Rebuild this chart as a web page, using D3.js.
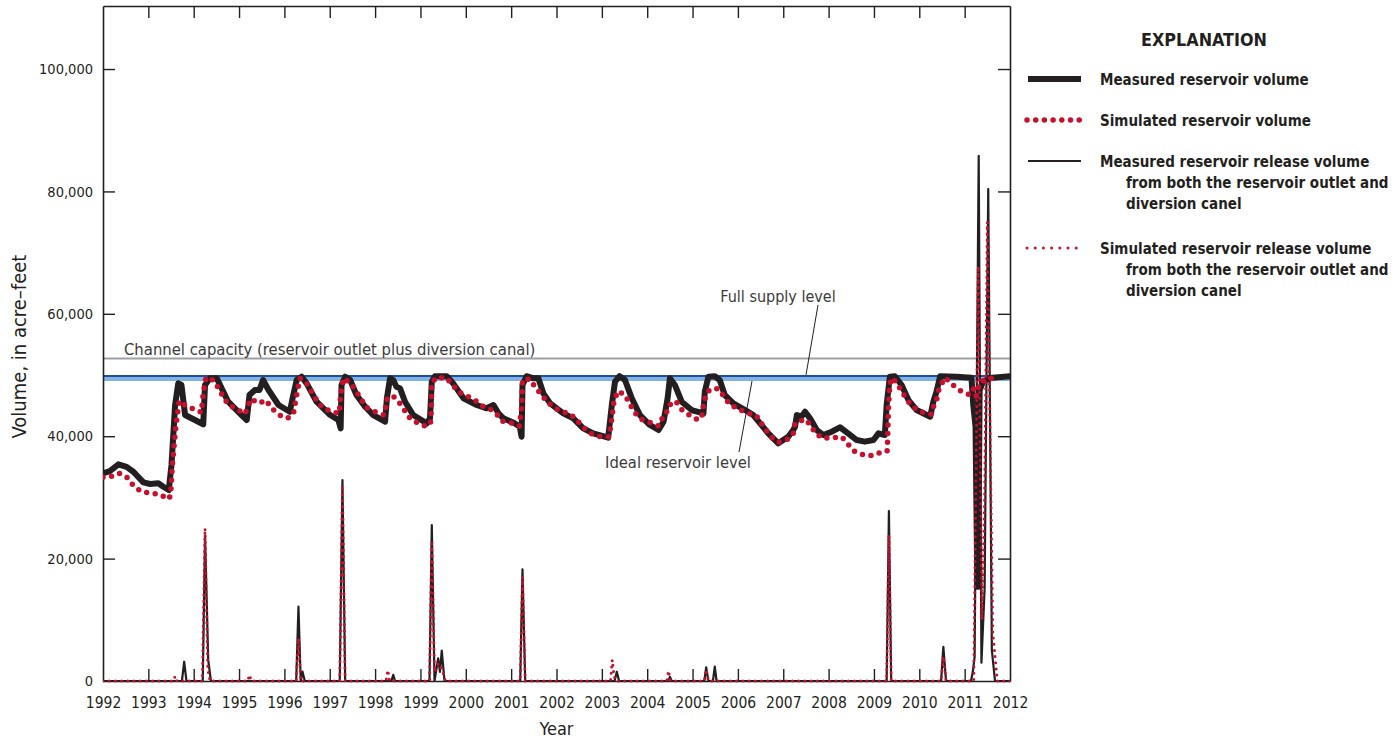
<!DOCTYPE html>
<html>
<head>
<meta charset="utf-8">
<script src="https://cdn.jsdelivr.net/npm/d3@7"></script>
<style>
  html, body { margin: 0; padding: 0; background: #fff; }
  svg { display: block; }
  text { font-family: "Liberation Sans Narrow", "Arial Narrow", "DejaVu Sans Condensed", sans-serif; fill: #231f20; }
</style>
</head>
<body>
<svg id="chart" width="1393" height="740"></svg>
<script>
// ---------------- DATA ----------------
const yearTicks = d3.range(1992, 2013);
const volumeTicks = [0, 20000, 40000, 60000, 80000, 100000];

const channelCapacity = 52700;
const fullSupplyLevel = 49850;
const idealReservoirLevel = 49350;

// Measured reservoir volume [year, acre-feet]
const measuredVolume = [
  [1992.00,33940],[1992.15,34300],[1992.34,35400],[1992.52,35000],[1992.67,34200],[1992.89,32460],
  [1993.04,32190],[1993.22,32300],[1993.33,31750],[1993.45,31200],[1993.51,35300],[1993.59,45100],
  [1993.66,48650],[1993.73,48370],[1993.81,43460],[1994.21,41950],[1994.25,48370],[1994.36,49460],
  [1994.51,49460],[1994.76,45640],[1995.05,43500],[1995.17,42650],[1995.23,46730],[1995.35,47550],
  [1995.45,47550],[1995.53,49180],[1995.65,47550],[1995.87,45100],[1996.12,44000],[1996.18,46190],
  [1996.27,49180],[1996.38,49720],[1996.49,48640],[1996.71,45640],[1997.01,43460],[1997.19,42650],
  [1997.24,41290],[1997.26,48370],[1997.34,49720],[1997.45,49180],[1997.59,46730],[1997.78,44820],
  [1997.96,43460],[1998.22,42370],[1998.26,46190],[1998.33,49460],[1998.40,49180],[1998.47,48090],
  [1998.55,47820],[1998.66,45640],[1998.84,43460],[1999.14,42100],[1999.21,42920],[1999.25,48910],
  [1999.32,49800],[1999.58,49800],[1999.72,48640],[1999.95,46190],[2000.24,45100],[2000.46,44560],
  [2000.61,45100],[2000.72,43740],[2000.83,42920],[2001.08,42100],[2001.19,41550],[2001.23,39920],
  [2001.25,48370],[2001.34,49800],[2001.49,49460],[2001.60,49460],[2001.71,47010],[2001.86,45370],
  [2002.15,43740],[2002.37,42920],[2002.59,41290],[2002.81,40470],[2003.14,39760],[2003.22,45100],
  [2003.29,48910],[2003.39,49800],[2003.51,49180],[2003.66,46190],[2003.84,43460],[2004.06,41830],
  [2004.25,41010],[2004.36,42370],[2004.45,46190],[2004.50,49460],[2004.61,48370],[2004.76,45640],
  [2004.98,44280],[2005.24,43740],[2005.27,47280],[2005.35,49720],[2005.49,49800],[2005.60,49180],
  [2005.71,46730],[2005.90,45370],[2006.16,44280],[2006.34,43460],[2006.49,42100],[2006.67,40470],
  [2006.89,38840],[2007.11,39920],[2007.22,41010],[2007.26,41550],[2007.30,43460],[2007.40,43190],
  [2007.48,44000],[2007.59,42920],[2007.74,41010],[2007.88,40200],[2008.07,40740],[2008.25,41460],
  [2008.43,40470],[2008.62,39380],[2008.80,39110],[2008.99,39380],[2009.10,40470],[2009.24,40200],
  [2009.28,45100],[2009.35,49720],[2009.46,49800],[2009.61,48370],[2009.76,45910],[2009.94,44280],
  [2010.24,43190],[2010.31,45640],[2010.38,47280],[2010.46,49800],[2010.82,49720],[2011.15,49560],
  [2011.19,45100],[2011.24,41550],[2011.28,15400],[2011.30,15400],[2011.33,47500],[2011.40,48800],
  [2011.55,49500],[2012.00,49800]
];

// Simulated reservoir volume [year, acre-feet]
const simulatedVolume = [
  [1992.00,33290],[1992.23,33500],[1992.37,33940],[1992.56,33120],[1992.67,31910],[1992.85,30930],
  [1993.05,30720],[1993.26,30500],[1993.44,29690],[1993.49,30280],[1993.53,35300],[1993.61,41830],
  [1993.68,45750],[1993.83,44990],[1994.01,44400],[1994.17,43900],[1994.21,47010],[1994.27,49560],
  [1994.43,49180],[1994.54,47930],[1994.65,46460],[1994.76,45210],[1994.95,44400],[1995.13,43630],
  [1995.26,46080],[1995.44,45370],[1995.59,45910],[1995.72,44560],[1995.89,43460],[1996.07,42920],
  [1996.20,43740],[1996.27,46730],[1996.34,49460],[1996.49,48640],[1996.71,45910],[1996.84,44660],
  [1997.04,44000],[1997.21,43740],[1997.24,46730],[1997.30,49460],[1997.46,48640],[1997.59,47280],
  [1997.81,44660],[1998.00,44000],[1998.20,43460],[1998.27,46190],[1998.39,46620],[1998.53,45530],
  [1998.77,42920],[1998.95,42100],[1999.14,41550],[1999.23,42370],[1999.25,48640],[1999.34,49560],
  [1999.56,49560],[1999.70,48480],[1999.83,47280],[2000.02,46570],[2000.20,45910],[2000.37,44930],
  [2000.53,44450],[2000.68,43630],[2000.80,42480],[2000.99,42210],[2001.18,41670],[2001.23,44560],
  [2001.25,49180],[2001.41,49350],[2001.54,47930],[2001.66,46850],[2001.78,45750],[2001.94,44660],
  [2002.11,44120],[2002.33,43460],[2002.48,42370],[2002.63,41180],[2002.78,40360],[2002.96,39920],
  [2003.16,39920],[2003.22,42920],[2003.27,45910],[2003.36,47390],[2003.51,46730],[2003.61,45370],
  [2003.71,44000],[2003.86,42810],[2004.05,42270],[2004.25,41670],[2004.33,42920],[2004.41,43460],
  [2004.47,44990],[2004.63,45750],[2004.74,44450],[2004.93,43460],[2005.09,42810],[2005.20,42920],
  [2005.25,45640],[2005.33,47280],[2005.45,47820],[2005.58,47710],[2005.71,46300],[2005.82,45210],
  [2006.01,44450],[2006.23,43740],[2006.40,43460],[2006.50,42270],[2006.62,41010],[2006.75,39760],
  [2006.89,39000],[2007.11,39540],[2007.22,40470],[2007.26,42100],[2007.37,42480],[2007.48,42810],
  [2007.60,41830],[2007.71,40470],[2007.88,39650],[2008.09,39760],[2008.29,39920],[2008.43,38680],
  [2008.58,37470],[2008.77,36930],[2008.97,36810],[2009.15,37360],[2009.29,37580],[2009.30,39100],
  [2009.32,44560],[2009.35,48640],[2009.41,49560],[2009.53,48370],[2009.65,46850],[2009.76,45640],
  [2009.91,44560],[2010.09,43840],[2010.27,43580],[2010.33,45210],[2010.39,46190],[2010.44,47930],
  [2010.57,49560],[2010.74,48370],[2010.90,47440],[2011.09,46850],[2011.19,47830],[2011.25,46500],
  [2011.33,48600],[2011.45,49300],[2011.72,49560]
];

// Measured reservoir release volume [year, acre-feet]
const measuredRelease = [
  [1992.00,0],[1993.74,0],[1993.79,3150],[1993.84,0],[1994.20,0],[1994.25,23800],[1994.32,3430],
  [1994.38,0],[1996.26,0],[1996.31,12140],[1996.36,0],[1996.40,1520],[1996.45,0],[1997.22,0],
  [1997.28,32840],[1997.34,0],[1998.36,0],[1998.40,1000],[1998.44,0],[1999.20,0],[1999.25,25490],
  [1999.31,0],[1999.39,3700],[1999.43,1500],[1999.47,4950],[1999.53,0],[2001.20,0],[2001.25,18250],
  [2001.31,0],[2003.28,0],[2003.33,1520],[2003.38,0],[2004.47,0],[2004.50,700],[2004.54,0],
  [2005.26,0],[2005.30,2240],[2005.35,0],[2005.45,0],[2005.49,2340],[2005.53,0],[2009.28,0],
  [2009.33,27780],[2009.38,0],[2010.48,0],[2010.53,5600],[2010.59,0],[2011.14,0],[2011.18,1500],
  [2011.22,4000],[2011.31,85800],[2011.37,3000],[2011.44,15000],[2011.52,80400],[2011.60,5000],
  [2011.67,0],[2012.00,0]
];

// Simulated reservoir release volume [year, acre-feet]
const simulatedRelease = [
  [1992.00,0],[1993.55,0],[1993.59,800],[1993.63,0],[1994.19,0],[1994.25,24950],[1994.31,2000],
  [1994.36,0],[1995.19,0],[1995.23,1000],[1995.27,0],[1996.26,0],[1996.31,7000],[1996.36,0],
  [1997.22,0],[1997.28,32000],[1997.34,0],[1998.24,0],[1998.28,1800],[1998.32,0],[1999.20,0],
  [1999.25,22500],[1999.31,1500],[1999.40,2900],[1999.48,1800],[1999.55,0],[2001.20,0],
  [2001.25,17040],[2001.31,0],[2003.19,0],[2003.23,3430],[2003.27,800],[2003.31,0],[2004.43,0],
  [2004.47,1680],[2004.51,0],[2005.26,0],[2005.30,1900],[2005.35,0],[2009.28,0],[2009.33,23860],
  [2009.38,0],[2010.48,0],[2010.53,4000],[2010.59,0],[2011.20,0],[2011.30,67800],[2011.38,10000],
  [2011.44,30000],[2011.50,75000],[2011.62,8000],[2011.72,0],[2012.00,0]
];

// ---------------- CHART ----------------
const svg = d3.select("#chart");
const plot = { left: 103, right: 1010, top: 6, bottom: 681 };

const xScale = d3.scaleLinear().domain([1992, 2012]).range([plot.left, plot.right]);
const yScale = d3.scaleLinear().domain([0, 110300]).range([plot.bottom, plot.top]);

const ink = "#231f20";
const red = "#c8102e";
const fontStack = '"Liberation Sans Narrow", "Arial Narrow", "DejaVu Sans Condensed", sans-serif';

svg.append("defs").append("clipPath").attr("id", "clip")
  .append("rect").attr("x", plot.left).attr("y", plot.top)
  .attr("width", plot.right - plot.left).attr("height", plot.bottom - plot.top + 3);

// Reference lines
const refs = svg.append("g");
refs.append("line").attr("x1", plot.left).attr("x2", plot.right)
  .attr("y1", yScale(channelCapacity)).attr("y2", yScale(channelCapacity))
  .attr("stroke", "#9d9fa2").attr("stroke-width", 2);
refs.append("line").attr("x1", plot.left).attr("x2", plot.right)
  .attr("y1", yScale(idealReservoirLevel)).attr("y2", yScale(idealReservoirLevel))
  .attr("stroke", "#7fb2e5").attr("stroke-width", 4);
refs.append("line").attr("x1", plot.left).attr("x2", plot.right)
  .attr("y1", yScale(fullSupplyLevel)).attr("y2", yScale(fullSupplyLevel))
  .attr("stroke", "#1f4e9c").attr("stroke-width", 2);

// Axes
const axisG = svg.append("g");
const tickLen = 12;
const axLeft = axisG.append("g").attr("transform", `translate(${plot.left},0)`)
  .call(d3.axisLeft(yScale).tickValues(volumeTicks).tickFormat(d3.format(",")).tickSizeInner(-tickLen).tickSizeOuter(0).tickPadding(10));
const axBottom = axisG.append("g").attr("transform", `translate(0,${plot.bottom})`)
  .call(d3.axisBottom(xScale).tickValues(yearTicks).tickFormat(d3.format("d")).tickSizeInner(-tickLen).tickSizeOuter(0).tickPadding(16));
const axTop = axisG.append("g").attr("transform", `translate(0,${plot.top})`)
  .call(d3.axisTop(xScale).tickValues(yearTicks).tickFormat("").tickSizeInner(-tickLen).tickSizeOuter(0));
const axRight = axisG.append("g").attr("transform", `translate(${plot.right},0)`)
  .call(d3.axisRight(yScale).tickValues(volumeTicks).tickFormat("").tickSizeInner(-tickLen).tickSizeOuter(0));

[axLeft, axBottom, axTop, axRight].forEach(g => {
  g.selectAll("path.domain").attr("stroke", ink).attr("stroke-width", 1.6);
  g.selectAll(".tick line").attr("stroke", ink).attr("stroke-width", 1.4);
  g.selectAll(".tick text").attr("fill", ink).style("font-size", "14.5px").style("font-family", fontStack);
});
axBottom.selectAll(".tick text").style("font-size", "15.5px");
axBottom.selectAll(".tick").filter(d => d === 1992 || d === 2012).select("line").remove();
axTop.selectAll(".tick").filter(d => d === 1992 || d === 2012).select("line").remove();
axRight.selectAll(".tick").filter(d => d === 0).select("line").remove();
axLeft.selectAll(".tick").filter(d => d === 0).select("line").remove();

// Lines
const lineGen = d3.line().x(d => xScale(d[0])).y(d => yScale(d[1]));
const dataG = svg.append("g").attr("clip-path", "url(#clip)");

dataG.append("path").datum(measuredVolume).attr("d", lineGen)
  .attr("fill", "none").attr("stroke", ink).attr("stroke-width", 6)
  .attr("stroke-linejoin", "round").attr("stroke-linecap", "round");

dataG.append("path").datum(measuredRelease).attr("d", lineGen)
  .attr("fill", "none").attr("stroke", ink).attr("stroke-width", 2.2)
  .attr("stroke-linejoin", "round");

dataG.append("path").datum(simulatedVolume).attr("d", lineGen)
  .attr("fill", "none").attr("stroke", red).attr("stroke-width", 5.5)
  .attr("stroke-dasharray", "0,8.6").attr("stroke-linecap", "round");

dataG.append("path").datum(simulatedRelease).attr("d", lineGen)
  .attr("fill", "none").attr("stroke", red).attr("stroke-width", 3)
  .attr("stroke-dasharray", "0,6.2").attr("stroke-linecap", "round");

// Axis titles
svg.append("text").attr("x", (plot.left + plot.right) / 2).attr("y", 735)
  .attr("text-anchor", "middle").style("font-size", "18px").text("Year");
svg.append("text").attr("transform", `translate(26,${(plot.top + plot.bottom) / 2 + 3}) rotate(-90)`)
  .attr("text-anchor", "middle").style("font-size", "20px").text("Volume, in acre\u2013feet");

// Annotations
svg.append("text").attr("x", 124).attr("y", 355).style("font-size", "16.5px").style("fill", "#3a3a3a")
  .text("Channel capacity (reservoir outlet plus diversion canal)");
svg.append("text").attr("x", 778).attr("y", 302).attr("text-anchor", "middle")
  .style("font-size", "16px").style("fill", "#3a3a3a").text("Full supply level");
svg.append("line").attr("x1", 818).attr("y1", 305).attr("x2", 806).attr("y2", yScale(fullSupplyLevel) - 1)
  .attr("stroke", ink).attr("stroke-width", 1);
svg.append("text").attr("x", 678).attr("y", 468).attr("text-anchor", "middle")
  .style("font-size", "16.4px").style("fill", "#3a3a3a").text("Ideal reservoir level");
svg.append("line").attr("x1", 739).attr("y1", 452).attr("x2", 752).attr("y2", yScale(idealReservoirLevel) + 2)
  .attr("stroke", ink).attr("stroke-width", 1);

// Legend
const lg = svg.append("g");
lg.append("text").attr("x", 1204).attr("y", 46).attr("text-anchor", "middle")
  .style("font-size", "17.8px").style("font-weight", "bold").text("EXPLANATION");

const items = [
  { y: 79, lines: ["Measured reservoir volume"], stroke: ink, w: 6, dash: null },
  { y: 120, lines: ["Simulated reservoir volume"], stroke: red, w: 5.5, dash: "0,8.7" },
  { y: 161, lines: ["Measured reservoir release volume", "from both the reservoir outlet and", "diversion canel"], stroke: ink, w: 2.2, dash: null },
  { y: 248, lines: ["Simulated reservoir release volume", "from both the reservoir outlet and", "diversion canel"], stroke: red, w: 3, dash: "0,8.2" }
];
items.forEach(it => {
  const ln = lg.append("line").attr("x1", it.dash ? 1027 : 1028).attr("x2", it.dash ? 1080 : 1081)
    .attr("y1", it.y).attr("y2", it.y).attr("stroke", it.stroke).attr("stroke-width", it.w);
  if (it.dash) ln.attr("stroke-dasharray", it.dash).attr("stroke-linecap", "round");
  it.lines.forEach((t, i) => {
    lg.append("text").attr("x", i === 0 ? 1100 : 1126).attr("y", it.y + 6 + i * 21)
      .style("font-size", "15px").style("font-weight", "bold").text(t);
  });
});
</script>
</body>
</html>
